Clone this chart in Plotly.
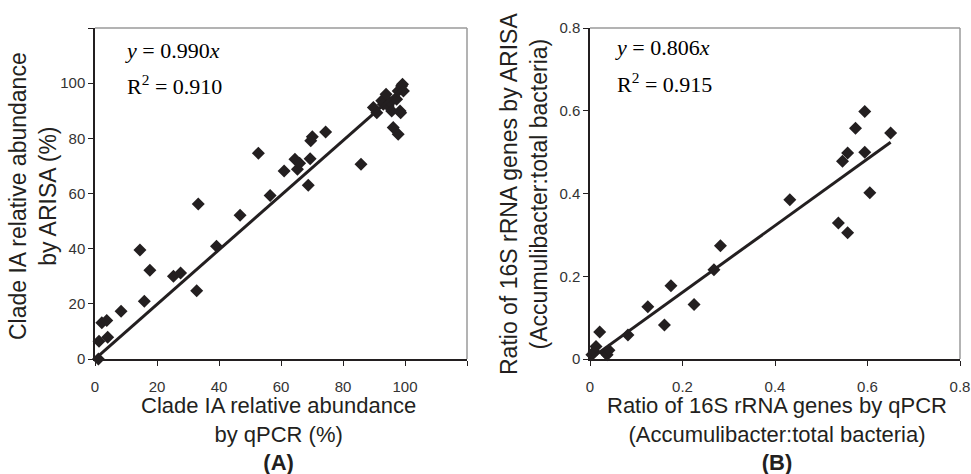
import plotly.graph_objects as go

# ---- Panel A data (Clade IA relative abundance, %) ----
a_qpcr = [1.1, 1.3, 2.2, 3.8, 4.1, 8.4, 14.5, 15.9, 17.7, 25.3, 27.6, 32.8, 33.3,
          39.2, 46.8, 52.7, 56.5, 61.0, 64.5, 65.3, 66.0, 68.8, 69.4, 69.6, 70.1,
          74.4, 85.8, 89.8, 90.9, 92.5, 93.0, 93.9, 94.6, 95.2, 95.7, 96.2, 97.3,
          97.8, 97.8, 98.4, 98.6, 98.9, 99.2, 99.5]
a_arisa = [0.0, 6.4, 13.1, 14.0, 7.9, 17.3, 39.5, 20.9, 32.2, 30.0, 31.2, 24.7, 56.2,
           40.9, 52.1, 74.6, 59.3, 68.2, 72.4, 68.8, 71.0, 63.0, 72.6, 79.1, 80.6,
           82.3, 70.6, 91.2, 89.3, 93.6, 92.4, 96.0, 91.7, 93.0, 89.9, 83.9, 94.2,
           81.5, 97.2, 89.9, 89.3, 99.0, 99.6, 97.2]
a_slope = 0.990
a_r2 = 0.910
a_ticks = [0, 20, 40, 60, 80, 100]
a_ticklabels = ["0", "20", "40", "60", "80", "100"]
a_extra_ticks = [120]

# ---- Panel B data (ratio of 16S rRNA genes) ----
b_qpcr = [0.004, 0.009, 0.013, 0.021, 0.034, 0.037, 0.041, 0.082, 0.125, 0.161,
          0.175, 0.225, 0.268, 0.282, 0.432, 0.537, 0.546, 0.557, 0.557, 0.574,
          0.594, 0.594, 0.605, 0.650]
b_arisa = [0.010, 0.018, 0.030, 0.065, 0.014, 0.010, 0.021, 0.058, 0.126, 0.082,
           0.177, 0.132, 0.216, 0.274, 0.385, 0.329, 0.478, 0.305, 0.498, 0.558,
           0.598, 0.500, 0.402, 0.546]
b_slope = 0.806
b_r2 = 0.915
b_ticks = [0, 0.2, 0.4, 0.6, 0.8]
b_ticklabels = ["0", "0.2", "0.4", "0.6", "0.8"]

INK = "#231f20"
W, H = 971, 474

fig = go.Figure()

marker = dict(symbol="diamond", size=10, color=INK, line=dict(width=0))

fig.add_trace(go.Scatter(x=a_qpcr, y=a_arisa, mode="markers", marker=marker,
                         xaxis="x", yaxis="y", cliponaxis=False, showlegend=False))
fig.add_trace(go.Scatter(x=[0, max(a_qpcr)], y=[0, a_slope * max(a_qpcr)], mode="lines",
                         line=dict(color=INK, width=3), xaxis="x", yaxis="y",
                         showlegend=False))
fig.add_trace(go.Scatter(x=b_qpcr, y=b_arisa, mode="markers", marker=marker,
                         xaxis="x2", yaxis="y2", cliponaxis=False, showlegend=False))
fig.add_trace(go.Scatter(x=[0, max(b_qpcr)], y=[0, b_slope * max(b_qpcr)], mode="lines",
                         line=dict(color=INK, width=3), xaxis="x2", yaxis="y2",
                         showlegend=False))

tickfont = dict(family="Liberation Sans, Arial, sans-serif", size=15, color="#333333")
axis_common = dict(showgrid=False, zeroline=False, showline=True, linecolor=INK,
                   linewidth=1.5, ticks="outside", ticklen=5, tickwidth=1,
                   tickcolor=INK, tickfont=tickfont, automargin=False, fixedrange=True)
minor_a = dict(tickmode="array", tickvals=a_extra_ticks, ticks="outside", ticklen=5,
               tickwidth=1, tickcolor=INK, showgrid=False)

def px(x):
    return x / W

def py(y):
    return 1 - y / H

ydom = [py(359), py(28)]

fig.update_layout(
    width=W, height=H,
    margin=dict(l=0, r=0, t=0, b=0),
    paper_bgcolor="white", plot_bgcolor="white",
    xaxis=dict(domain=[px(95), px(467)], range=[0, 120], tickmode="array",
               tickvals=a_ticks, ticktext=a_ticklabels, anchor="y",
               ticklabelstandoff=8, minor=minor_a, **axis_common),
    yaxis=dict(domain=ydom, range=[0, 120], tickmode="array",
               tickvals=a_ticks, ticktext=a_ticklabels, anchor="x",
               minor=minor_a, **axis_common),
    xaxis2=dict(domain=[px(590), px(960)], range=[0, 0.8], tickmode="array",
                tickvals=b_ticks, ticktext=b_ticklabels, anchor="y2",
                ticklabelstandoff=8, **axis_common),
    yaxis2=dict(domain=ydom, range=[0, 0.8], tickmode="array",
                tickvals=b_ticks, ticktext=b_ticklabels, anchor="x2", **axis_common),
)

# light grey top/right frame lines
for xr, yr in (("x domain", "y domain"), ("x2 domain", "y2 domain")):
    fig.add_shape(type="line", xref=xr, yref=yr, x0=0, x1=1, y0=1, y1=1,
                  line=dict(color="#9a9a9a", width=1.5), layer="below")
    fig.add_shape(type="line", xref=xr, yref=yr, x0=1, x1=1, y0=0, y1=1,
                  line=dict(color="#9a9a9a", width=1.5), layer="below")

xtitlefont = dict(family="Liberation Sans, Arial, sans-serif", size=22, color=INK)
ytitlefont = dict(family="Liberation Sans, Arial, sans-serif", size=23, color=INK)
serif = dict(family="Liberation Serif, Times New Roman, serif", size=22, color="black")

ann = []
# equations
ann.append(dict(text="<i>y</i> = %.3f<i>x</i>" % a_slope, x=px(123), y=py(50),
                font=serif))
ann.append(dict(text="R<sup>2</sup> = %.3f" % a_r2, x=px(125), y=py(85), font=serif))
ann.append(dict(text="<i>y</i> = %.3f<i>x</i>" % b_slope, x=px(613), y=py(48),
                font=serif))
ann.append(dict(text="R<sup>2</sup> = %.3f" % b_r2, x=px(615), y=py(83), font=serif))
for a in ann:
    a.update(xref="paper", yref="paper", xanchor="left", yanchor="middle",
             showarrow=False)

titles = [
    dict(text="Clade IA relative abundance<br>by qPCR (%)<br><b>(A)</b>",
         x=px(278), y=py(434), font=xtitlefont),
    dict(text="Ratio of 16S rRNA genes by qPCR<br>(Accumulibacter:total bacteria)<br><b>(B)</b>",
         x=px(777), y=py(434), font=xtitlefont),
    dict(text="Clade IA relative abundance<br>by ARISA (%)",
         x=px(33), y=py(196), textangle=-90, font=ytitlefont),
    dict(text="Ratio of 16S rRNA genes by ARISA<br>(Accumulibacter:total bacteria)",
         x=px(524), y=py(194), textangle=-90, font=ytitlefont),
]
for t in titles:
    t.update(xref="paper", yref="paper", xanchor="center", yanchor="middle",
             showarrow=False)
    ann.append(t)

fig.update_layout(annotations=ann)

fig.write_html("out.html", config={"displayModeBar": False},
               post_script="document.body.style.margin='0px';")
